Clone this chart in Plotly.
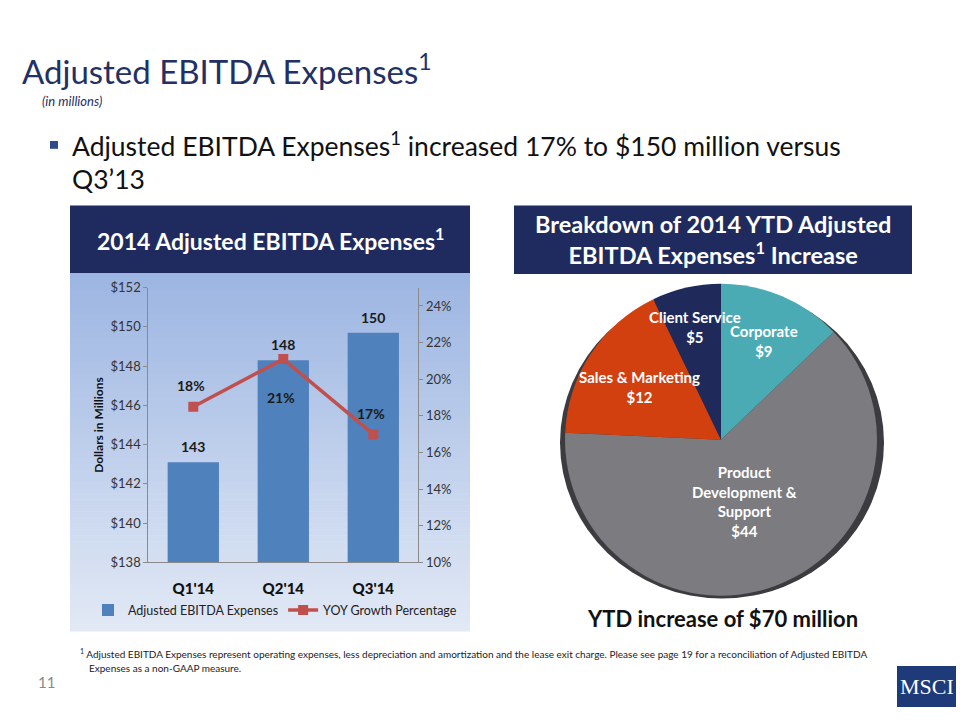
import math
import plotly.graph_objects as go

# ---------------- data ----------------
quarters = ["Q1'14", "Q2'14", "Q3'14"]
expenses = [143.1, 148.3, 149.7]
expense_labels = ["143", "148", "150"]
yoy_growth = [18.5, 21.1, 17.0]
yoy_labels = ["18%", "21%", "17%"]

left_ticks = [138, 140, 142, 144, 146, 148, 150, 152]
right_ticks = [10, 12, 14, 16, 18, 20, 22, 24]

pie_segments = ["Corporate", "Product<br>Development &<br>Support", "Sales & Marketing", "Client Service"]
pie_values = [9, 44, 12, 5]
pie_colors = ["#4BABB5", "#7B7B80", "#D2400F", "#1F2A5B"]
pie_label_radius = [0.68, 0.42, 0.60, 0.73]

W, H = 960, 720
NAVY = "#1F2B5E"
FONT = "Lato"


def px(x):
    return x / W


def py(y):
    return 1 - y / H


fig = go.Figure()

# bars
fig.add_trace(go.Bar(
    x=quarters, y=expenses, name="Adjusted EBITDA Expenses",
    marker=dict(color="#4F81BD", line=dict(width=0)), width=0.57,
    xaxis="x", yaxis="y",
))
# growth line
fig.add_trace(go.Scatter(
    x=quarters, y=yoy_growth, name="YOY Growth Percentage",
    mode="lines+markers",
    line=dict(color="#C0504D", width=3.5),
    marker=dict(symbol="square", size=10, color="#C0504D"),
    xaxis="x", yaxis="y2",
))

# pie
PIE_X0, PIE_X1, PIE_Y0, PIE_Y1 = 559, 883, 282, 601
fig.add_trace(go.Pie(
    labels=pie_segments, values=pie_values, sort=False, direction="clockwise",
    rotation=0, marker=dict(colors=pie_colors, line=dict(width=0)),
    textinfo="none", hoverinfo="skip", showlegend=False,
    domain=dict(x=[px(PIE_X0), px(PIE_X1)], y=[py(PIE_Y1), py(PIE_Y0)]),
))

shapes = []
# gradient background for left chart panel
top_c = (0x9C, 0xB5, 0xE2)
bot_c = (0xE2, 0xE9, 0xF5)
n = 60
y0, y1 = 270, 637
for i in range(n):
    t = i / (n - 1)
    c = tuple(int(round(top_c[k] + (bot_c[k] - top_c[k]) * t)) for k in range(3))
    ya = y0 + (y1 - y0) * i / n
    yb = y0 + (y1 - y0) * (i + 1) / n + 0.6
    shapes.append(dict(type="rect", xref="paper", yref="paper", layer="below",
                       x0=px(70), x1=px(470), y0=py(ya), y1=py(yb),
                       fillcolor="rgb(%d,%d,%d)" % c, line=dict(width=0)))
# subtle pie shadow
shapes.append(dict(type="circle", xref="paper", yref="paper", layer="below",
                   x0=px(PIE_X0 + 1), x1=px(PIE_X1 + 1), y0=py(PIE_Y1 + 3), y1=py(PIE_Y0 + 3),
                   fillcolor="#3c3c40", line=dict(width=0)))
# header boxes
shapes.append(dict(type="rect", xref="paper", yref="paper", x0=px(70), x1=px(470),
                   y0=py(271), y1=py(202), fillcolor=NAVY, line=dict(width=0)))
shapes.append(dict(type="rect", xref="paper", yref="paper", x0=px(514), x1=px(912),
                   y0=py(272), y1=py(202), fillcolor=NAVY, line=dict(width=0)))
# bullet square
shapes.append(dict(type="rect", xref="paper", yref="paper", x0=px(50), x1=px(58),
                   y0=py(144), y1=py(136), fillcolor="#2E4A8B", line=dict(width=0)))
# MSCI logo box
shapes.append(dict(type="rect", xref="paper", yref="paper", x0=px(897), x1=px(956),
                   y0=py(715), y1=py(673), fillcolor="#1E3A78", line=dict(width=0)))

annotations = []


def txt(x, y, text, size, color="#000", bold=False, xanchor="left", yanchor="middle",
        family=FONT, italic=False, align="left"):
    t = text
    if bold:
        t = "<b>" + t + "</b>"
    if italic:
        t = "<i>" + t + "</i>"
    annotations.append(dict(x=px(x), y=py(y), xref="paper", yref="paper", text=t,
                            showarrow=False, xanchor=xanchor, yanchor=yanchor, align=align,
                            font=dict(size=size, color=color, family=family)))


txt(20, 62, "Adjusted EBITDA Expenses<sup>1</sup>", 33, color="#233064")
txt(40, 95, "(in millions)", 13, color="#233064", italic=True)
txt(70, 140, "Adjusted EBITDA Expenses<sup>1</sup> increased 17% to $150 million versus", 26.5, color="#111")
txt(70, 175, "Q3’13", 26.5, color="#111")
txt(270, 237, "2014 Adjusted EBITDA Expenses<sup>1</sup>", 23, color="white", bold=True, xanchor="center")
txt(713, 237, "Breakdown of 2014 YTD Adjusted<br>EBITDA Expenses<sup>1</sup> Increase", 23.5,
    color="white", bold=True, xanchor="center", align="center")
txt(722, 624, "YTD increase of $70 million", 22, color="#111", bold=True, xanchor="center")
txt(78, 660, "<sup>1</sup> Adjusted EBITDA Expenses represent operating expenses, less depreciation and amortization and the lease exit charge. Please see page 19 for a reconciliation of Adjusted EBITDA", 10, color="#222")
txt(87, 675, "Expenses as a non-GAAP measure.", 10, color="#222")
txt(36, 689, "11", 15, color="#888")
txt(926.5, 694, "MSCI", 22, color="white", xanchor="center", family="Liberation Serif")

# bar value labels
for q, v, lab in zip(quarters, expenses, expense_labels):
    annotations.append(dict(x=q, y=v, xref="x", yref="y", text="<b>" + lab + "</b>",
                            showarrow=False, yanchor="bottom", yshift=5,
                            font=dict(size=14, color="#1a1a1a", family=FONT)))
# growth labels
shifts = [21, -38, 21]
for q, v, lab, s in zip(quarters, yoy_growth, yoy_labels, shifts):
    annotations.append(dict(x=q, y=v, xref="x", yref="y2", text="<b>" + lab + "</b>",
                            showarrow=False, yanchor="middle", yshift=s, xshift=-2,
                            font=dict(size=14, color="#1a1a1a", family=FONT)))

# pie labels positioned from slice angles
cx, cy = (PIE_X0 + PIE_X1) / 2, (PIE_Y0 + PIE_Y1) / 2
R = (PIE_X1 - PIE_X0) / 2
total = sum(pie_values)
cum = 0
for lab, v, fr in zip(pie_segments, pie_values, pie_label_radius):
    mid = (cum + v / 2) / total * 2 * math.pi
    cum += v
    lx = cx + R * fr * math.sin(mid)
    ly = cy - R * fr * math.cos(mid)
    annotations.append(dict(x=px(lx), y=py(ly), xref="paper", yref="paper",
                            text="<b>" + lab + "<br>$" + str(v) + "</b>", showarrow=False,
                            xanchor="center", yanchor="middle", align="center",
                            font=dict(size=15, color="white", family=FONT)))

axis_font = dict(size=13, color="#333", family=FONT)
fig.update_layout(
    width=W, height=H, margin=dict(l=0, r=0, t=0, b=0),
    paper_bgcolor="white", plot_bgcolor="rgba(0,0,0,0)",
    shapes=shapes, annotations=annotations,
    bargap=0.43,
    xaxis=dict(domain=[px(148.3), px(418.3)], showline=True, linecolor="#8a8a8a", linewidth=1,
               ticks="", ticklabelstandoff=13,
               tickfont=dict(size=15, color="#111", family=FONT + " Black"),
               showgrid=False, fixedrange=True),
    yaxis=dict(domain=[py(567), py(286)], range=[138, 152], tickmode="array",
               tickvals=left_ticks, ticktext=["$%d" % v for v in left_ticks],
               showline=True, linecolor="#8a8a8a", linewidth=1,
               ticks="outside", ticklen=4, tickcolor="#8a8a8a", tickfont=axis_font,
               showgrid=False, zeroline=False,
               title=dict(text="<b>Dollars in Millions</b>", standoff=4,
                          font=dict(size=12, color="#111", family=FONT))),
    yaxis2=dict(overlaying="y", side="right", range=[10, 25], tickmode="array",
                tickvals=right_ticks, ticktext=["%d%%" % v for v in right_ticks],
                showline=True, linecolor="#8a8a8a", linewidth=1,
                ticks="outside", ticklen=4, tickcolor="#8a8a8a", tickfont=axis_font,
                showgrid=False, zeroline=False, anchor="x"),
    legend=dict(orientation="h", x=px(275), y=py(616), xanchor="center", yanchor="middle",
                bgcolor="rgba(0,0,0,0)", font=dict(size=12.5, color="#222", family=FONT),
                itemwidth=30, tracegroupgap=0),
)

fig.write_html("out.html", config={"displayModeBar": False},
               post_script="document.body.style.margin='0';document.body.style.padding='0';")
